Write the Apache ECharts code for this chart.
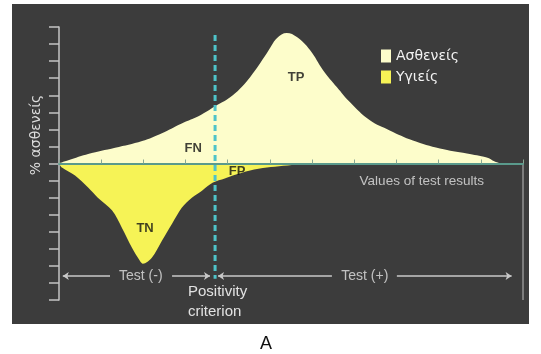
<!DOCTYPE html>
<html>
<head>
<meta charset="utf-8">
<script src="https://cdn.jsdelivr.net/npm/echarts@6/dist/echarts.min.js"></script>
<style>
  html, body { margin: 0; padding: 0; background: #fff; }
  #main { width: 541px; height: 354px; }
</style>
</head>
<body>
<div id="main"></div>
<script>
var myChart = echarts.init(document.getElementById('main'));

// Ασθενείς (diseased) curve, [test value, %]
const sickX = [0, 0.69, 1.33, 1.97, 2.44, 2.91, 3.34, 3.70, 4.12, 4.53, 4.93, 5.17, 5.40, 5.64, 5.95, 6.26, 6.59, 6.90, 7.37, 7.84, 8.39, 9.03, 9.67, 10.14, 10.33, 10.50]
const sickY = [0, 0.55, 0.92, 1.32, 1.78, 2.35, 2.82, 3.35, 4.0, 5.06, 6.47, 7.35, 7.65, 7.41, 6.65, 5.47, 4.47, 3.59, 2.53, 1.94, 1.35, 0.88, 0.59, 0.35, 0.12, 0]
// Υγιείς (healthy) curve, drawn below zero
const healthyX = [0, 0.07, 0.38, 0.69, 0.92, 1.26, 1.49, 1.73, 1.92, 1.99, 2.20, 2.44, 2.68, 2.91, 3.15, 3.39, 3.65, 3.93, 4.12, 4.53, 4.93, 5.71, 6.49, 8.08, 10.45]
const healthyY = [0, -0.24, -0.71, -1.41, -2.0, -2.76, -3.76, -4.94, -5.71, -5.88, -5.53, -4.53, -3.53, -2.59, -2.0, -1.59, -1.12, -0.88, -0.71, -0.41, -0.24, -0.06, -0.02, 0, 0]

const cutoff = 3.70            // positivity criterion
const cutoffSpan = [7.53, -6.76]
const arrowY = -6.59
const arrows = [[1.21, 0.09], [2.68, 3.58], [6.47, 3.77], [8.01, 10.73]]

const regionLabels = [['TP', 5.62, 5.06], ['FN', 3.18, 0.88], ['TN', 2.04, -3.82], ['FP', 4.22, -0.47]]
const noteLabels = [['Test (-)', 1.94, -6.59], ['Test (+)', 7.25, -6.59]]
const axisNote = ['Values of test results', 8.6, -1.06]

const zip = (xs, ys) => xs.map((x, i) => [x, ys[i]])

option = {
    animation: false,
    backgroundColor: '#ffffff',
    graphic: [
        { type: 'rect', z: -10, shape: { x: 12, y: 4, width: 517, height: 320 }, style: { fill: '#3c3c3c' } },
        {
            type: 'text', x: 36, y: 135, rotation: Math.PI / 2,
            style: { text: '% ασθενείς', fill: '#dcdcdc', font: '14px "DejaVu Sans"', align: 'center', verticalAlign: 'middle' }
        },
        {
            type: 'text', x: 188, y: 282,
            style: { text: 'Positivity\ncriterion', fill: '#e2e2e2', font: '15px "Liberation Sans"', lineHeight: 20 }
        },
        {
            type: 'text', x: 266, y: 344,
            style: { text: 'A', fill: '#111', font: '18px "Liberation Sans"', align: 'center', verticalAlign: 'middle' }
        }
    ],
    legend: {
        data: ['Ασθενείς', 'Υγιείς'],
        orient: 'vertical',
        left: 381, top: 49,
        padding: 0,
        itemWidth: 10, itemHeight: 13, itemGap: 7,
        icon: 'rect',
        textStyle: { color: '#f2f2f2', fontSize: 14, fontFamily: 'DejaVu Sans' }
    },
    grid: { left: 59, right: 18, top: 27, bottom: 54 },
    xAxis: {
        type: 'value', min: 0, max: 11, interval: 1, z: 10,
        axisLine: { onZero: true, lineStyle: { color: '#5a9a8c', width: 2 } },
        axisTick: { show: true, inside: true, length: 4, lineStyle: { color: '#8aa894', width: 1 } },
        axisLabel: { show: false },
        splitLine: { show: false }
    },
    yAxis: {
        type: 'value', min: -8, max: 8, interval: 1,
        axisLine: { show: true, onZero: false, lineStyle: { color: '#c4c4c4', width: 1.5 } },
        axisTick: { show: true, length: 10, lineStyle: { color: '#c4c4c4', width: 1.5 } },
        axisLabel: { show: false },
        splitLine: { show: false }
    },
    series: [
        {
            name: 'Υγιείς', type: 'line', smooth: 0.3, showSymbol: false,
            data: zip(healthyX, healthyY),
            itemStyle: { color: '#f6f356' },
            lineStyle: { width: 0 },
            areaStyle: { color: '#f6f356', opacity: 1 }
        },
        {
            name: 'Ασθενείς', type: 'line', smooth: 0.4, showSymbol: false,
            data: zip(sickX, sickY),
            itemStyle: { color: '#fdfdcb' },
            lineStyle: { width: 0 },
            areaStyle: { color: '#fdfdcb', opacity: 1 }
        },
        {
            name: 'edge', type: 'line', showSymbol: false, z: 3,
            data: [[11, 0], [11, -8]],
            lineStyle: { color: '#bdbdbd', width: 1 }
        },
        {
            name: 'criterion', type: 'line', showSymbol: false, z: 12,
            data: [[cutoff, cutoffSpan[0]], [cutoff, cutoffSpan[1]]],
            lineStyle: { color: '#4ec3c9', width: 3, type: [6, 4] }
        },
        {
            name: 'arrows', type: 'lines', coordinateSystem: 'cartesian2d', z: 12,
            symbol: ['none', 'arrow'], symbolSize: 6,
            data: arrows.map(a => ({ coords: [[a[0], arrowY], [a[1], arrowY]] })),
            lineStyle: { color: '#c8c8c8', width: 1.5, opacity: 1 }
        },
        {
            name: 'regions', type: 'scatter', symbolSize: 0, z: 13,
            data: regionLabels.map(l => ({ name: l[0], value: [l[1], l[2]] })),
            label: { show: true, position: 'inside', formatter: '{b}', color: '#111', fontSize: 13, fontWeight: 'bold', fontFamily: 'Liberation Sans' }
        },
        {
            name: 'notes', type: 'scatter', symbolSize: 0, z: 13,
            data: noteLabels.map(l => ({ name: l[0], value: [l[1], l[2]] })),
            label: { show: true, position: 'inside', formatter: '{b}', color: '#e2e2e2', fontSize: 14, fontFamily: 'Liberation Sans' }
        },
        {
            name: 'axisNote', type: 'scatter', symbolSize: 0, z: 13,
            data: [{ name: axisNote[0], value: [axisNote[1], axisNote[2]] }],
            label: { show: true, position: 'inside', formatter: '{b}', color: '#e2e2e2', fontSize: 13.5, fontFamily: 'Liberation Sans' }
        }
    ]
};

myChart.setOption(option);
</script>
</body>
</html>
